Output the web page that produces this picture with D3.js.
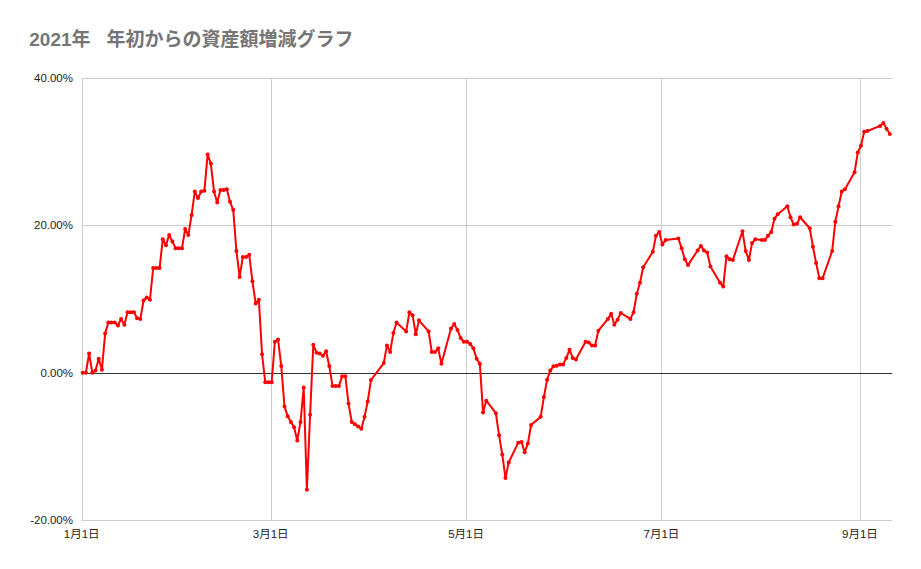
<!DOCTYPE html>
<html><head><meta charset="utf-8">
<script src="https://cdn.jsdelivr.net/npm/d3@7/dist/d3.min.js"></script>
<style>
body{margin:0;background:#fff;}
svg{display:block;font-family:"Liberation Sans",Arial,"Noto Sans CJK JP",sans-serif;}
</style></head>
<body>
<svg id="c" width="921" height="569"></svg>
<script>
const titleParts = ["2021年", "年初からの資産額増減グラフ"];
const dates = [
"1/1","1/2","1/3","1/4","1/5","1/6","1/7","1/8","1/9","1/10","1/11","1/12","1/13","1/14","1/15","1/16","1/17","1/18","1/19","1/20","1/21","1/22","1/23","1/24","1/25","1/26","1/27","1/28","1/29","1/30","1/31",
"2/1","2/2","2/3","2/4","2/5","2/6","2/7","2/8","2/9","2/10","2/11","2/12","2/13","2/14","2/15","2/16","2/17","2/18","2/19","2/20","2/21","2/22","2/23","2/24","2/25","2/26","2/27","2/28",
"3/1","3/2","3/3","3/4","3/5","3/6","3/7","3/8","3/9","3/10","3/11","3/12","3/13","3/14","3/15","3/16","3/17","3/18","3/19","3/20","3/21","3/22","3/23","3/24","3/25","3/26","3/27","3/28","3/29","3/30","3/31",
"4/1","4/5","4/6","4/7","4/8","4/9","4/12","4/13","4/14","4/15","4/16","4/19","4/20","4/21","4/22","4/23","4/26","4/27","4/28","4/29","4/30",
"5/1","5/2","5/3","5/4","5/5","5/6","5/7","5/10","5/11","5/12","5/13","5/14","5/17","5/18","5/19","5/20","5/21","5/24","5/25","5/26","5/27","5/28","5/29","5/30","5/31",
"6/1","6/2","6/3","6/4","6/7","6/8","6/9","6/10","6/11","6/14","6/15","6/16","6/17","6/18","6/21","6/22","6/23","6/24","6/25","6/28","6/29","6/30",
"7/1","7/2","7/6","7/7","7/8","7/9","7/12","7/13","7/14","7/15","7/16","7/19","7/20","7/21","7/22","7/23","7/26","7/27","7/28","7/29","7/30",
"8/1","8/2","8/3","8/4","8/5","8/6","8/9","8/10","8/11","8/12","8/13","8/16","8/17","8/18","8/19","8/20","8/23","8/24","8/25","8/26","8/27","8/30","8/31",
"9/1","9/2","9/3","9/7","9/8","9/9","9/10"
];
const values = [
0,0,2.6,0,0.3,1.9,0.4,5.3,6.8,6.8,6.8,6.4,7.3,6.5,8.2,8.2,8.2,7.4,7.3,9.8,10.2,9.9,14.2,14.2,14.2,18.1,17.3,18.7,17.8,16.9,16.9,
16.9,19.5,18.7,21.4,24.6,23.7,24.6,24.7,29.6,28.4,24.6,23.1,24.8,24.8,24.9,23.2,22.1,16.5,13.0,15.7,15.7,16.0,12.4,9.4,9.9,2.5,-1.3,-1.3,
-1.3,4.2,4.5,0.9,-4.6,-5.9,-6.7,-7.4,-9.2,-6.7,-2.0,-15.9,-5.7,3.8,2.7,2.6,2.3,2.9,0.9,-1.8,-1.8,-1.8,-0.5,-0.5,-4.2,-6.7,-7.0,-7.3,-7.6,-6.0,-3.9,
-1.0,1.3,3.7,2.8,5.4,6.8,5.6,8.2,7.8,5.2,7.1,5.6,2.8,2.8,3.3,1.2,6.0,6.6,5.8,4.7,4.2,
4.2,3.9,3.3,1.9,1.2,-5.4,-3.8,-5.5,-8.5,-11.1,-14.3,-12.2,-9.5,-9.4,-10.8,-9.6,-7.1,-6.0,-3.3,-0.95,0.3,0.86,0.95,1.1,1.1,
2.0,3.1,2.0,1.8,4.2,4.1,3.7,3.7,5.7,7.3,8.0,6.5,7.2,8.1,7.3,8.2,10.7,12.2,14.3,16.4,18.6,19.1,
17.4,18.0,18.2,16.9,15.4,14.6,16.6,17.2,16.6,16.3,14.4,12.2,11.7,15.8,15.4,15.3,19.2,16.5,15.3,17.6,18.1,
18.0,18.0,18.6,19.1,20.9,21.5,22.6,21.1,20.1,20.2,21.1,19.6,17.1,14.9,12.8,12.8,16.5,20.5,22.6,24.6,24.9,27.2,29.9,
30.8,32.7,32.8,33.5,33.9,33.1,32.4
];
const yTicks = [-20, 0, 20, 40];
const xTickLabels = ["1/1","3/1","5/1","7/1","9/1"];
const domainEnd = "9/11";

const parse = d3.timeParse("%Y/%m/%d");
const pd = s => parse("2021/" + s);
const data = dates.map((d, i) => ({date: pd(d), v: values[i]}));

const svg = d3.select("#c");
const L = 82.7, R = 893, T = 78, B = 520, gridR = 892.3;
const x = d3.scaleTime().domain([pd("1/1"), pd(domainEnd)]).range([L, R]);
const y = d3.scaleLinear().domain([-20, 40]).range([B, T]);

// title
const tt = svg.append("text").attr("x", 29.3).attr("y", 46).attr("font-size", 19).attr("font-weight", "bold")
  .attr("fill", "#757575");
tt.append("tspan").text(titleParts[0]);
tt.append("tspan").attr("dx", 16).text(titleParts[1]);

// horizontal gridlines
const g = svg.append("g");
g.selectAll("line.h").data(yTicks.filter(t => t !== 0)).join("line")
  .attr("x1", L - 1).attr("x2", gridR).attr("y1", d => Math.round(y(d)) + 0.5).attr("y2", d => Math.round(y(d)) + 0.5)
  .attr("stroke", "#cccccc").attr("stroke-width", 1);
// vertical gridlines
const xt = xTickLabels.map(pd);
g.selectAll("line.v").data(xt).join("line")
  .attr("x1", d => Math.round(x(d)) - 0.5).attr("x2", d => Math.round(x(d)) - 0.5)
  .attr("y1", T).attr("y2", B)
  .attr("stroke", "#cccccc").attr("stroke-width", 1);
// zero line
svg.append("line").attr("x1", L - 1).attr("x2", gridR).attr("y1", Math.round(y(0)) + 0.5).attr("y2", Math.round(y(0)) + 0.5)
  .attr("stroke", "#333333").attr("stroke-width", 1);

// y labels
const fmtY = d => d.toFixed(2) + "%";
svg.append("g").selectAll("text").data(yTicks).join("text")
  .attr("x", 73).attr("y", d => y(d)).attr("dy", "0.35em").attr("text-anchor", "end")
  .attr("font-size", 11.5).attr("fill", "#222").text(fmtY);
// x labels
const fmtX = d3.timeFormat("%-m月%-d日");
svg.append("g").selectAll("text").data(xt).join("text")
  .attr("x", d => x(d) - 1).attr("y", 538).attr("text-anchor", "middle")
  .attr("font-size", 11.5).attr("fill", "#222").text(fmtX);

// line
const line = d3.line().x(d => x(d.date)).y(d => y(d.v));
svg.append("path").datum(data).attr("d", line).attr("fill", "none")
  .attr("stroke", "#ff0000").attr("stroke-width", 2).attr("stroke-linejoin", "round");
svg.append("g").selectAll("circle").data(data).join("circle")
  .attr("cx", d => x(d.date)).attr("cy", d => y(d.v)).attr("r", 2).attr("fill", "#ff0000");
</script>
</body></html>
